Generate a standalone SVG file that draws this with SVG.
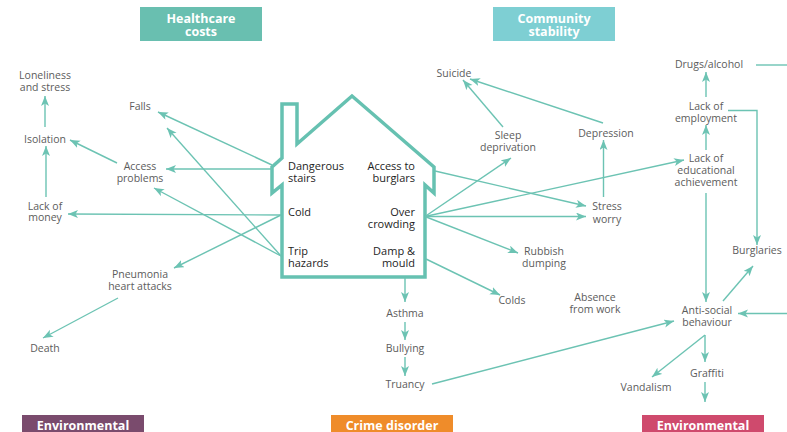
<svg xmlns="http://www.w3.org/2000/svg" width="787" height="432" viewBox="0 0 787 432">
<defs>
<marker id="ah" markerUnits="userSpaceOnUse" markerWidth="11" markerHeight="9" refX="10" refY="4" orient="auto">
<path d="M0,0 L10,4 L0,8 L2.5,4 Z" fill="#6cc3b3"/>
</marker>
<style>
.lbl{font-family:"Open Sans","Liberation Sans",sans-serif;font-size:10.5px;fill:#5c5c5c;text-anchor:middle}
.hl{font-family:"Open Sans","Liberation Sans",sans-serif;font-size:11px;fill:#1e1e1e}
.hr{text-anchor:end}
.ban{font-family:"Open Sans","Liberation Sans",sans-serif;font-size:12.5px;font-weight:bold;fill:#ffffff;text-anchor:middle}
.c{fill:none;stroke:#6cc3b3;stroke-width:1.4;marker-end:url(#ah)}
.cn{fill:none;stroke:#6cc3b3;stroke-width:1.4}
</style>
</defs>
<rect width="787" height="432" fill="#ffffff"/>

<g id="banner-healthcare"><rect x="140" y="7" width="122" height="34" fill="#69bfb0"/><text class="ban" x="201" y="22.5">Healthcare</text><text class="ban" x="201" y="35.5">costs</text></g>
<g id="banner-community"><rect x="493" y="7" width="122" height="34" fill="#7ecfd3"/><text class="ban" x="554" y="22.5">Community</text><text class="ban" x="554" y="35.5">stability</text></g>
<g id="banner-env1"><rect x="22" y="415" width="122" height="20" fill="#7a4b6d"/><text class="ban" x="83" y="430">Environmental</text></g>
<g id="banner-crime"><rect x="331" y="415" width="122" height="20" fill="#ef8c2a"/><text class="ban" x="392" y="430">Crime disorder</text></g>
<g id="banner-env2"><rect x="642" y="415" width="122" height="20" fill="#cf4a6d"/><text class="ban" x="703" y="430">Environmental</text></g>

<g id="house">
<path d="M282,277 L282,185 L272,193 L272,167 L282,158 L282,104 L297,104 L297,144 L352,96 L434,167 L434,193 L425,185 L425,277 Z" fill="#ffffff" stroke="#66c1b1" stroke-width="3.5" stroke-linejoin="miter"/>
<text class="hl" x="288" y="170">Dangerous</text><text class="hl" x="288" y="182">stairs</text>
<text class="hl hr" x="415" y="170">Access to</text><text class="hl hr" x="415" y="182">burglars</text>
<text class="hl" x="288" y="216">Cold</text>
<text class="hl hr" x="415" y="216">Over</text><text class="hl hr" x="415" y="228">crowding</text>
<text class="hl" x="288" y="255">Trip</text><text class="hl" x="288" y="267">hazards</text>
<text class="hl hr" x="415" y="255">Damp &amp;</text><text class="hl hr" x="415" y="267">mould</text>
</g>

<g id="n-loneliness"><text class="lbl" x="45" y="79">Loneliness</text><text class="lbl" x="45" y="91">and stress</text></g>
<g id="n-isolation"><text class="lbl" x="45" y="143">Isolation</text></g>
<g id="n-falls"><text class="lbl" x="140" y="110">Falls</text></g>
<g id="n-access"><text class="lbl" x="140" y="170">Access</text><text class="lbl" x="140" y="182">problems</text></g>
<g id="n-money"><text class="lbl" x="45" y="209.5">Lack of</text><text class="lbl" x="45" y="221">money</text></g>
<g id="n-pneumonia"><text class="lbl" x="140" y="277.5">Pneumonia</text><text class="lbl" x="140" y="290">heart attacks</text></g>
<g id="n-death"><text class="lbl" x="45" y="352">Death</text></g>
<g id="n-suicide"><text class="lbl" x="454" y="77">Suicide</text></g>
<g id="n-sleep"><text class="lbl" x="508" y="138.5">Sleep</text><text class="lbl" x="508" y="150.5">deprivation</text></g>
<g id="n-depression"><text class="lbl" x="606" y="137">Depression</text></g>
<g id="n-stress"><text class="lbl" x="607" y="209.5">Stress</text><text class="lbl" x="607" y="222.5">worry</text></g>
<g id="n-drugs"><text class="lbl" x="709" y="67.5">Drugs/alcohol</text></g>
<g id="n-employment"><text class="lbl" x="706" y="109.5">Lack of</text><text class="lbl" x="706" y="122">employment</text></g>
<g id="n-education"><text class="lbl" x="706" y="161.5">Lack of</text><text class="lbl" x="706" y="173.5">educational</text><text class="lbl" x="706" y="186">achievement</text></g>
<g id="n-burglaries"><text class="lbl" x="757" y="254">Burglaries</text></g>
<g id="n-antisocial"><text class="lbl" x="707" y="314">Anti-social</text><text class="lbl" x="707" y="326">behaviour</text></g>
<g id="n-absence"><text class="lbl" x="595" y="301">Absence</text><text class="lbl" x="595" y="313">from work</text></g>
<g id="n-graffiti"><text class="lbl" x="707" y="377">Graffiti</text></g>
<g id="n-vandalism"><text class="lbl" x="646" y="391">Vandalism</text></g>
<g id="n-rubbish"><text class="lbl" x="544" y="255">Rubbish</text><text class="lbl" x="544" y="267">dumping</text></g>
<g id="n-colds"><text class="lbl" x="512" y="304">Colds</text></g>
<g id="n-asthma"><text class="lbl" x="405" y="317">Asthma</text></g>
<g id="n-bullying"><text class="lbl" x="405" y="352">Bullying</text></g>
<g id="n-truancy"><text class="lbl" x="405" y="387.5">Truancy</text></g>

<g id="connectors">
<path class="c" d="M45,127 L45,96"/>
<path class="c" d="M46,197 L46,146"/>
<path class="c" d="M117,163 L70,140"/>
<path class="c" d="M272,165 L158,112"/>
<path class="c" d="M272,169 L166,169"/>
<path class="c" d="M281,256 L167,128"/>
<path class="c" d="M281,256 L154,188"/>
<path class="c" d="M281,215 L68,214"/>
<path class="c" d="M281,215 L174,268"/>
<path class="c" d="M118,298 L43,338"/>
<path class="c" d="M435,171 L586,206"/>
<path class="c" d="M425,216.5 L586,216.5"/>
<path class="c" d="M425,216.5 L511,158"/>
<path class="c" d="M425,216.5 L684,160"/>
<path class="c" d="M425,216.5 L518,253"/>
<path class="c" d="M426,259 L500,295"/>
<path class="c" d="M405,278 L405,302"/>
<path class="c" d="M405,322 L405,340"/>
<path class="c" d="M405,357 L405,376"/>
<path class="c" d="M432,384 L674,321"/>
<path class="c" d="M503,127 L463,80"/>
<path class="c" d="M603,123 L470,79"/>
<path class="c" d="M603.5,197 L603.5,140"/>
<path class="c" d="M706,150 L706,125"/>
<path class="c" d="M706,97 L706,72"/>
<path class="c" d="M728,110.5 L757,110.5 L757,245"/>
<path class="cn" d="M756,65 L787,65"/>
<path class="c" d="M706,193 L706,302"/>
<path class="c" d="M723,301 L753,266"/>
<path class="c" d="M787,313.5 L738,313.5"/>
<path class="c" d="M705,335 L652,377"/>
<path class="c" d="M705,335 L705,362"/>
<path class="c" d="M705,382 L705,402"/>
</g>
</svg>
